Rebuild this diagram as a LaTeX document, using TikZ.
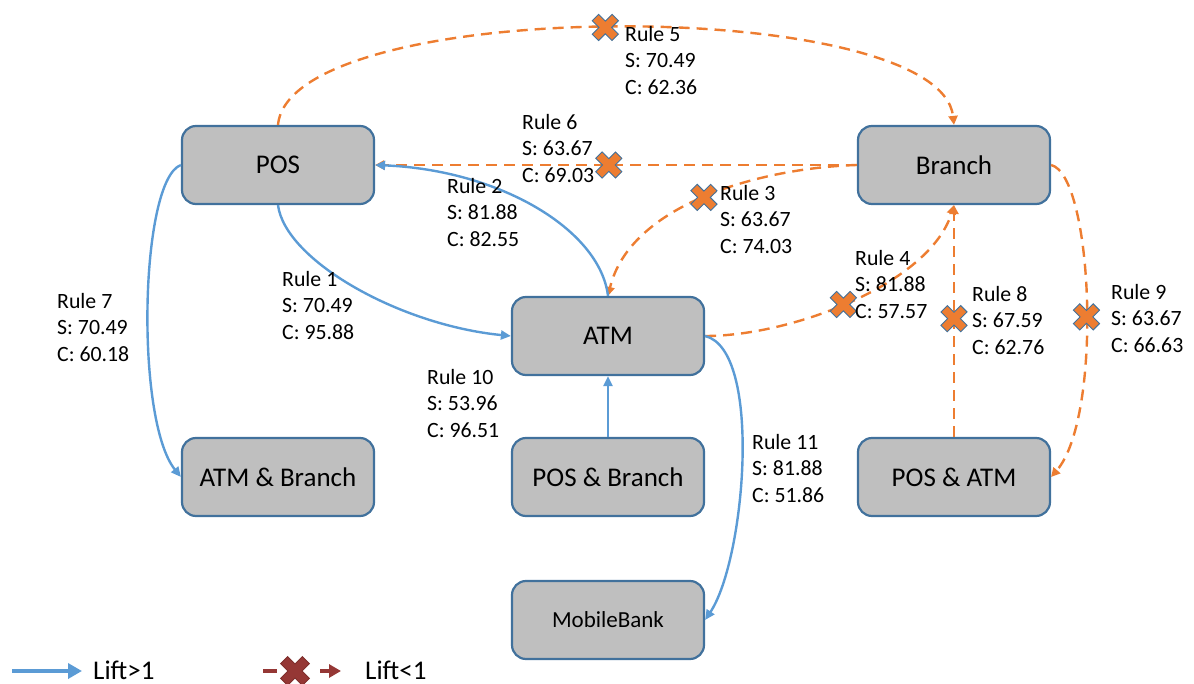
\documentclass[tikz,border=0pt]{standalone}
\usepackage{fontspec}
\setmainfont{Carlito}
\usetikzlibrary{arrows.meta}

\definecolor{boxfill}{HTML}{BFBFBF}
\definecolor{boxline}{HTML}{41719C}
\definecolor{liftup}{HTML}{5B9BD5}
\definecolor{liftdown}{HTML}{ED7D31}
\definecolor{legendred}{HTML}{953735}

\tikzset{
  entity/.style={draw=boxline, fill=boxfill, line width=2.2pt, rounded corners=14pt,
    minimum width=192pt, minimum height=78pt, inner sep=0pt,
    font=\fontsize{27}{32}\selectfont},
  pos rule/.style={draw=liftup, line width=2.4pt, -{Triangle[length=10pt,width=9pt]}},
  neg rule/.style={draw=liftdown, line width=2.4pt, dash pattern=on 11pt off 7pt,
    -{Triangle[length=9pt,width=9pt]}},
  rulelabel/.style={anchor=north west, inner sep=0pt, align=left,
    font=\fontsize{21.8}{26.5}\selectfont},
  legendtext/.style={anchor=base west, inner sep=0pt, font=\fontsize{27}{32}\selectfont},
  % rotated plus sign marking a rule with lift below one
  cross/.pic={
    \path[pic actions, solid, line width=0.9pt, rotate=45]
      (4.5,14) -- (4.5,4.5) -- (14,4.5) -- (14,-4.5) -- (4.5,-4.5) -- (4.5,-14)
      -- (-4.5,-14) -- (-4.5,-4.5) -- (-14,-4.5) -- (-14,4.5) -- (-4.5,4.5)
      -- (-4.5,14) -- cycle;
  },
  rule cross/.style={fill=liftdown, draw=boxline},
}

\begin{document}
\begin{tikzpicture}[x=1pt, y=-1pt]
\useasboundingbox (0,0) rectangle (1194,684);

% channels
\node[entity] (pos)    at (278,165) {POS};
\node[entity] (branch) at (954,165) {Branch};
\node[entity] (atm)    at (608,336) {ATM};
\node[entity] (atmbr)  at (278,477) {ATM \& Branch};
\node[entity] (posbr)  at (608,477) {POS \& Branch};
\node[entity] (posatm) at (954,477) {POS \& ATM};
\node[entity, font=\fontsize{23}{28}\selectfont] (mobile) at (608,620) {MobileBank};

% rules with lift < 1
\draw[neg rule] (pos.north) .. controls +(12,-130) and +(-14,-130) .. (branch.north)
  pic[pos=0.49, rule cross]{cross};
\draw[neg rule] (branch.west) -- (pos.east)
  pic[pos=0.515, rule cross]{cross};
\draw[neg rule] (branch.west) .. controls +(-98,3) and +(22,-91) .. (atm.north)
  pic[pos=0.5, rule cross]{cross};
\draw[neg rule] (atm.east) .. controls +(88,0) and +(-24,78) .. (branch.south)
  pic[pos=0.465, rule cross]{cross};
\draw[neg rule] (posatm.north) -- (branch.south)
  pic[pos=0.51, rule cross]{cross};
\draw[neg rule] (branch.east) .. controls +(42,10) and +(52,-60) .. (posatm.east)
  pic[pos=0.535, rule cross]{cross};

% rules with lift > 1
\draw[pos rule] (pos.west) .. controls +(-41,15) and +(-46,-57) .. (atmbr.west);
\draw[pos rule] (pos.south) .. controls +(7,55) and +(-112,-11) .. (atm.west);
\draw[pos rule] (atm.north) .. controls +(-8,-66) and +(125,5) .. (pos.east);
\draw[pos rule] (posbr.north) -- (atm.south);
\draw[pos rule] (atm.east) .. controls +(58,14) and +(40,-60) .. (mobile.east);

% support and confidence of each rule
\node[rulelabel] (r5)  at (625,26)   {Rule 5\\S: 70.49\\C: 62.36};
\node[rulelabel] (r6)  at (522,114)  {Rule 6\\S: 63.67\\C: 69.03};
\node[rulelabel] (r3)  at (720,185)  {Rule 3\\S: 63.67\\C: 74.03};
\node[rulelabel] (r2)  at (447,178)  {Rule 2\\S: 81.88\\C: 82.55};
\node[rulelabel] (r1)  at (282,271)  {Rule 1\\S: 70.49\\C: 95.88};
\node[rulelabel] (r7)  at (57,293)   {Rule 7\\S: 70.49\\C: 60.18};
\node[rulelabel] (r10) at (427,369)  {Rule 10\\S: 53.96\\C: 96.51};
\node[rulelabel] (r11) at (752,434)  {Rule 11\\S: 81.88\\C: 51.86};
\node[rulelabel] (r4)  at (855,250)  {Rule 4\\S: 81.88\\C: 57.57};
\node[rulelabel] (r8)  at (972,286)  {Rule 8\\S: 67.59\\C: 62.76};
\node[rulelabel] (r9)  at (1111,284) {Rule 9\\S: 63.67\\C: 66.63};

% legend
\coordinate (upa) at (12,671);
\coordinate (upb) at (82,671);
\draw[liftup, line width=4pt, -{Triangle[length=14pt,width=15pt]}] (upa) -- (upb);
\node[legendtext] (uptext) at (93,679) {Lift>1};

\coordinate (dna) at (263,671);
\coordinate (dnb) at (277,671);
\coordinate (dnx) at (295,671);
\coordinate (dnc) at (320,671);
\coordinate (dnd) at (341,671);
\draw[legendred, line width=4pt] (dna) -- (dnb);
\path (dnx) pic[scale=1.1, fill=legendred, draw=legendred!85!black]{cross};
\draw[legendred, line width=4pt, -{Triangle[length=12pt,width=13pt]}] (dnc) -- (dnd);
\node[legendtext] (dntext) at (365,679) {Lift<1};
\end{tikzpicture}
\end{document}
